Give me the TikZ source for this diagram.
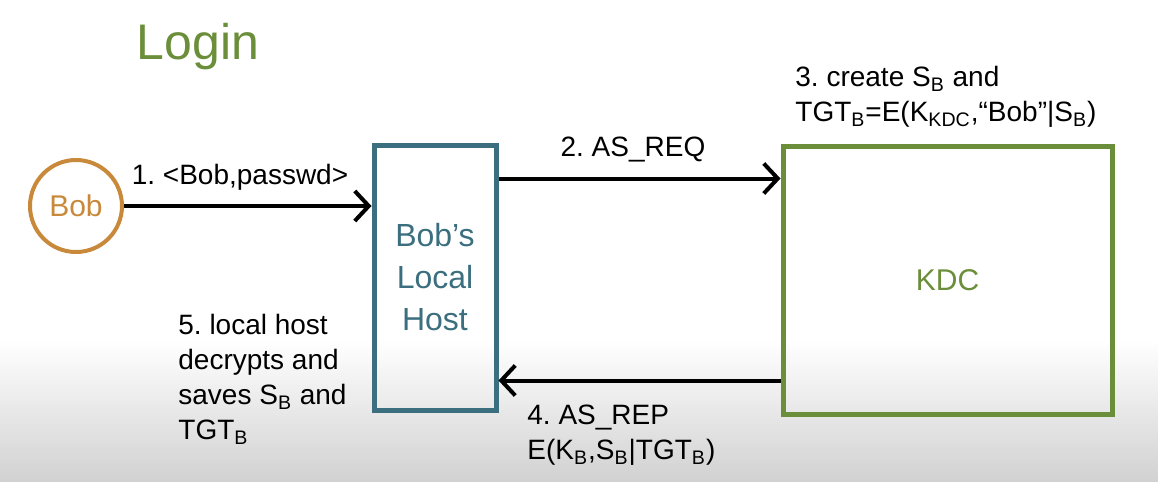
\documentclass[tikz,border=0pt]{standalone}
\usepackage{fontspec}
\setmainfont{Liberation Sans}
\usetikzlibrary{arrows.meta}
\definecolor{kgreen}{RGB}{107,142,58}
\definecolor{korange}{RGB}{200,137,58}
\definecolor{kteal}{RGB}{59,110,126}
\newcommand{\sbs}[1]{\textsubscript{#1}}
\begin{document}
\begin{tikzpicture}[x=0.5pt,y=-0.5pt,
  lbl/.style={font=\fontsize{14}{17.5}\selectfont, text=black, inner sep=0pt, align=left},
  conn/.style={line width=2pt, -{Straight Barb[length=7pt,width=15pt,line width=2pt]}},
  hostbox/.style={draw=kteal, line width=2.5pt, minimum width=61pt, minimum height=132.5pt, inner sep=0pt, text=kteal, align=center, font=\fontsize{16}{21}\selectfont},
  kdcbox/.style={draw=kgreen, line width=2.5pt, minimum width=164.5pt, minimum height=134pt, inner sep=0pt, text=kgreen, font=\fontsize{15}{18}\selectfont},
  person/.style={circle, draw=korange, line width=2pt, inner sep=0pt, text=korange, font=\fontsize{15}{18}\selectfont}]
\useasboundingbox (0,0) rectangle (1158,482);
\shade[top color=white, bottom color=black!18] (0,340) rectangle (1158,482);
\node[text=kgreen, font=\fontsize{25}{30}\selectfont] (title) at (198,47) {Login};
\node[person, minimum size=46pt] (bob) at (76,206) {Bob};
\node[hostbox] (host) at (435,277.5) {Bob's\\Local\\Host};
\node[kdcbox] (kdc) at (947.5,280) {KDC};
\draw[conn] (bob.east) -- (bob.east -| host.west);
\draw[conn] ([yshift=-18pt]host.north east) -- ([yshift=-18pt]host.north east -| kdc.west);
\draw[conn] ([yshift=-118.5pt]kdc.north west) -- ([yshift=-118.5pt]kdc.north west -| host.east);
\node[lbl] (l1) at (240,177) {1.\ <Bob,passwd>};
\node[lbl] (l2) at (633,150) {2.\ AS\_REQ};
\node[lbl, anchor=north west] (l3) at (795,66) {3.\ create S\sbs{B} and\\TGT\sbs{B}=E(K\sbs{KDC},“Bob”|S\sbs{B})};
\node[lbl, anchor=north west] (l4) at (527,405) {4.\ AS\_REP\\E(K\sbs{B},S\sbs{B}|TGT\sbs{B})};
\node[lbl, anchor=north west] (l5) at (178,314) {5.\ local host\\decrypts and\\saves S\sbs{B} and\\TGT\sbs{B}};
\end{tikzpicture}
\end{document}
